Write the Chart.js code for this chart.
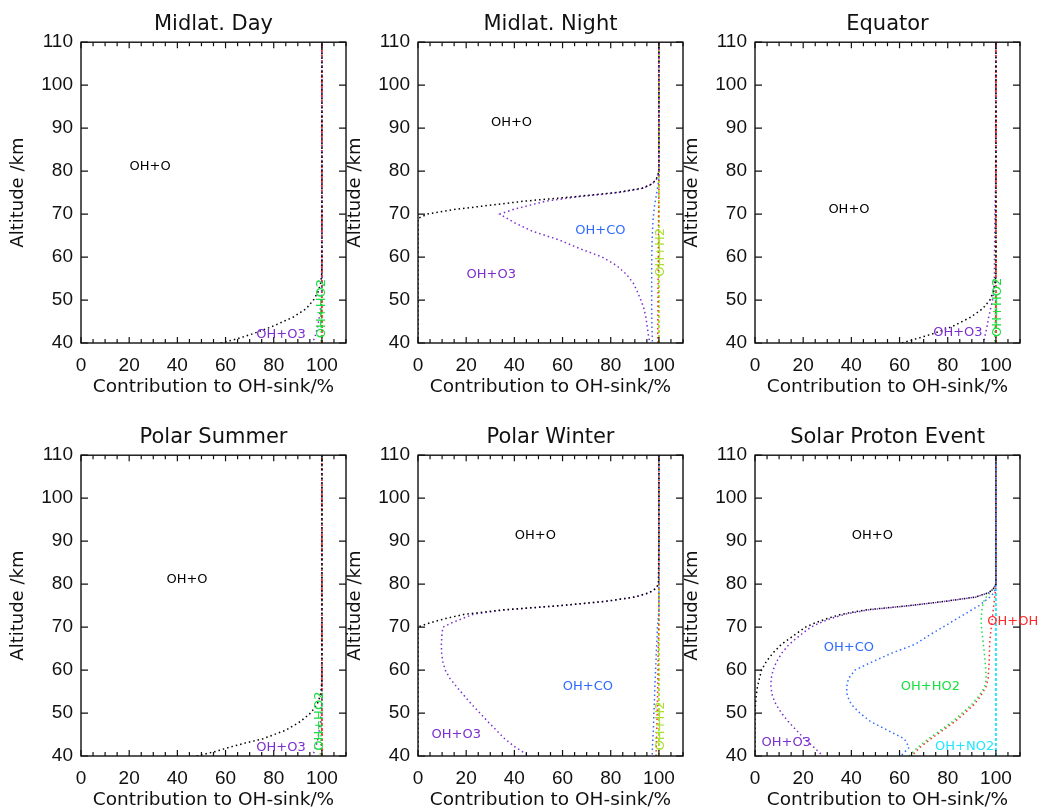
<!DOCTYPE html>
<html>
<head>
<meta charset="utf-8">
<script src="https://cdn.jsdelivr.net/npm/chart.js@4.4.0/dist/chart.umd.min.js"></script>
<style>
  html, body { margin: 0; padding: 0; background: #fff; overflow: hidden; }
  #wrap { position: relative; width: 1040px; height: 808px; }
  #wrap canvas { position: absolute; }
</style>
</head>
<body>
<div id="wrap"></div>
<script>
// altitude grids (km)
const ALT_A = [40, 41, 42, 43, 44, 46, 48, 50, 52, 54, 56, 58, 60, 70, 80, 90, 100, 110];
const ALT_B = [40, 42, 44, 46, 48, 50, 52, 54, 56, 58, 60, 62, 64, 66, 68,
               69, 70, 71, 72, 73, 74, 75, 76, 77, 78, 79, 80, 90, 100, 110];
const ALT_END = [40, 110];
const FULL = [100, 100];

// cumulative contribution (%) - Midlat. Day
const dayO   = [58, 65, 70.5, 75.5, 80, 88, 93.5, 96.5, 98.5, 99.5, 99.9, 100, 100, 100, 100, 100, 100, 100];
const dayO3  = [96, 96.8, 97.4, 97.9, 98.3, 98.9, 99.4, 99.7, 99.9, 100, 100, 100, 100, 100, 100, 100, 100, 100];
const dayHO2 = [99.6, 99.65, 99.7, 99.75, 99.8, 99.85, 99.9, 99.95, 100, 100, 100, 100, 100, 100, 100, 100, 100, 100];

// Midlat. Night
const nightO  = [0, 0, 0, 0, 0, 0, 0, 0, 0, 0, 0, 0, 0, 0, 0,
                 0, 4, 14, 29, 44, 64, 82, 93, 97, 98.8, 99.5, 100, 100, 100, 100];
const nightO3 = [96.2, 95.6, 95.1, 94.6, 93.8, 92.5, 91, 89.3, 86.5, 82.5, 76.5, 67, 58.5, 47.5, 40,
                 37, 34, 39, 46, 53, 66, 83, 93.3, 97.2, 98.9, 99.6, 100, 100, 100, 100];
const nightCO = [97.3, 97.2, 97.1, 97.05, 97, 97, 97, 97, 97, 97, 97.05, 97.1, 97.2, 97.35, 97.5,
                 97.6, 97.8, 98, 98.2, 98.5, 98.8, 99.1, 99.4, 99.7, 99.9, 100, 100, 100, 100, 100];
const nightOH = [99.5, 99.5, 99.55, 99.55, 99.6, 99.6, 99.65, 99.65, 99.7, 99.7, 99.75, 99.75, 99.8, 99.8, 99.85,
                 99.85, 99.9, 99.9, 99.9, 99.95, 99.95, 100, 100, 100, 100, 100, 100, 100, 100, 100];

// Equator
const eqO   = [61, 67, 73, 78, 82.5, 89.5, 94.5, 97.5, 99, 99.7, 100, 100, 100, 100, 100, 100, 100, 100];
const eqO3  = [94.7, 95.2, 95.6, 96, 96.4, 97, 97.8, 98.6, 99.1, 99.3, 99.4, 99.4, 99.4, 99.6, 100, 100, 100, 100];
const eqHO2 = [99.5, 99.55, 99.6, 99.65, 99.7, 99.75, 99.8, 99.85, 99.9, 99.95, 100, 100, 100, 100, 100, 100, 100, 100];

// Polar Summer
const psO   = [48, 55.5, 61.5, 68, 75.5, 85, 91, 95.3, 98, 99.3, 99.8, 100, 100, 100, 100, 100, 100, 100];
const psO3  = [96, 96.8, 97.4, 97.9, 98.3, 98.9, 99.4, 99.7, 99.9, 100, 100, 100, 100, 100, 100, 100, 100, 100];
const psHO2 = [99.3, 99.4, 99.5, 99.55, 99.6, 99.7, 99.8, 99.9, 99.95, 100, 100, 100, 100, 100, 100, 100, 100, 100];

// Polar Winter
const pwO  = [0, 0, 0, 0, 0, 0, 0, 0, 0, 0, 0, 0, 0, 0, 0,
              0, 0, 5, 11.5, 19.5, 35, 59, 78, 90, 96, 98.7, 99.8, 100, 100, 100];
const pwO3 = [46.3, 40.5, 36, 32.5, 29, 25.7, 22.3, 19.2, 16.2, 13.3, 11.3, 10.3, 9.8, 9.7, 9.9,
              10.1, 10.4, 14, 18.5, 23, 36, 59.5, 78.2, 90.2, 96.1, 98.8, 99.9, 100, 100, 100];
const pwCO = [97.2, 97.3, 97.5, 97.7, 97.8, 97.9, 98.1, 98.2, 98.3, 98.5, 98.6, 98.8, 98.9, 99.1, 99.3,
              99.3, 99.4, 99.6, 99.7, 99.9, 100, 100, 100, 100, 100, 100, 100, 100, 100, 100];
const pwOH = [98.8, 98.9, 99, 99.1, 99.2, 99.3, 99.4, 99.45, 99.5, 99.55, 99.6, 99.65, 99.7, 99.75, 99.8,
              99.85, 99.9, 99.95, 100, 100, 100, 100, 100, 100, 100, 100, 100, 100, 100, 100];

// Solar Proton Event
const speO   = [0, 0, 0, 0, 0, 0, 0.2, 0.5, 1, 1.8, 2.7, 4.7, 7.5, 11, 16,
                18.5, 21, 25, 30, 36, 46, 64, 79, 91.5, 97, 99, 100, 100, 100, 100];
const speO3  = [28.2, 24.5, 20.5, 17.2, 13.8, 11, 8.7, 7.2, 6.6, 6.7, 7.5, 9, 11.2, 14.2, 18.5,
                20.8, 23.2, 27, 31.5, 37.5, 47, 64.5, 79.2, 91.7, 97.1, 99.1, 100, 100, 100, 100];
const speCO  = [60.5, 64, 62, 55, 48, 43.5, 40, 38.3, 38, 38.8, 41.5, 49, 57, 66.5, 72,
                75, 78, 81, 84, 87, 90, 93, 95.3, 97.5, 99.2, 99.8, 100, 100, 100, 100];
const speHO2 = [64, 67.5, 72, 77, 82, 86, 90, 93, 95.3, 96, 95.8, 95.5, 95.2, 94.8, 94.4,
                94.2, 94, 93.9, 93.9, 94, 94.2, 94.5, 95, 96, 97.5, 99, 100, 100, 100, 100];
const speOH  = [65, 68.5, 73, 78, 83, 87, 91, 93.7, 95.8, 96.8, 97, 97.2, 97.3, 97.4, 97.7,
                97.9, 98.1, 98.3, 98.5, 98.7, 98.9, 99.1, 99.3, 99.5, 99.7, 99.9, 100, 100, 100, 100];

const X_TITLE = 'Contribution to OH-sink/%';
const Y_TITLE = 'Altitude /km';

const COLORS = {
  O: '#000000', O3: '#7b2fd0', CO: '#2f6bff', H2: '#a8e030',
  HO2: '#18e040', OH: '#ff2a2a', NO2: '#20e6ff'
};

const FONT = "'DejaVu Sans', sans-serif";
const TICK_FONT = "'Liberation Sans', Arial, sans-serif";

// [reaction, altitudes, values]; labels: [text, colour, x, alt, rotated]
const panels = [
  { title: 'Midlat. Day', col: 0, row: 0,
    curves: [['O', ALT_A, dayO], ['O3', ALT_A, dayO3], ['HO2', ALT_A, dayHO2], ['OH', ALT_END, FULL]],
    labels: [['OH+O', 'O', 28.7, 81, false], ['OH+O3', 'O3', 83, 41.9, false], ['OH+HO2', 'HO2', 100, 48, true]] },
  { title: 'Midlat. Night', col: 1, row: 0,
    curves: [['O', ALT_B, nightO], ['O3', ALT_B, nightO3], ['CO', ALT_B, nightCO], ['OH', ALT_B, nightOH], ['H2', ALT_END, FULL]],
    labels: [['OH+O', 'O', 38.8, 91.2, false], ['OH+CO', 'CO', 75.7, 66.1, false],
             ['OH+O3', 'O3', 30.4, 56, false], ['OH+H2', 'H2', 100.7, 61.1, true]] },
  { title: 'Equator', col: 2, row: 0,
    curves: [['O', ALT_A, eqO], ['O3', ALT_A, eqO3], ['HO2', ALT_A, eqHO2], ['OH', ALT_END, FULL]],
    labels: [['OH+O', 'O', 39, 71, false], ['OH+O3', 'O3', 84.2, 42.3, false], ['OH+HO2', 'HO2', 100.6, 48.3, true]] },
  { title: 'Polar Summer', col: 0, row: 1,
    curves: [['O', ALT_A, psO], ['O3', ALT_A, psO3], ['HO2', ALT_A, psHO2], ['OH', ALT_END, FULL]],
    labels: [['OH+O', 'O', 44, 81.1, false], ['OH+O3', 'O3', 83, 42, false], ['OH+HO2', 'HO2', 99.2, 48.1, true]] },
  { title: 'Polar Winter', col: 1, row: 1,
    curves: [['O', ALT_B, pwO], ['O3', ALT_B, pwO3], ['CO', ALT_B, pwCO], ['OH', ALT_B, pwOH], ['H2', ALT_END, FULL]],
    labels: [['OH+O', 'O', 48.7, 91.3, false], ['OH+CO', 'CO', 70.5, 56.1, false],
             ['OH+O3', 'O3', 15.9, 45, false], ['OH+H2', 'H2', 100.7, 47, true]] },
  { title: 'Solar Proton Event', col: 2, row: 1,
    curves: [['O', ALT_B, speO], ['O3', ALT_B, speO3], ['CO', ALT_B, speCO], ['HO2', ALT_B, speHO2],
             ['OH', ALT_B, speOH], ['NO2', ALT_END, FULL]],
    labels: [['OH+O', 'O', 48.7, 91.3, false], ['OH+CO', 'CO', 39, 65.2, false],
             ['OH+HO2', 'HO2', 72.8, 56.1, false], ['OH+OH', 'OH', 107, 71.3, false],
             ['OH+O3', 'O3', 13, 43.1, false], ['OH+NO2', 'NO2', 87, 42.2, false]] }
];

const CANVAS_W = 370, CANVAS_H = 404;
const COL_LEFT = [0, 337, 674];
const ROW_TOP = [0, 413];

// IDL-like frame with inward ticks on all four sides
const frameTicks = {
  id: 'frameTicks',
  afterDatasetsDraw(chart) {
    const { ctx, chartArea: a, scales: { x, y } } = chart;
    ctx.save();
    ctx.strokeStyle = '#111';
    ctx.lineWidth = 1.4;
    ctx.strokeRect(a.left, a.top, a.right - a.left, a.bottom - a.top);
    ctx.lineWidth = 1.2;
    ctx.beginPath();
    for (let v = 0; v <= 110; v += 5) {
      const px = x.getPixelForValue(v);
      const len = v % 20 === 0 ? 6 : 4;
      ctx.moveTo(px, a.bottom); ctx.lineTo(px, a.bottom - len);
      ctx.moveTo(px, a.top); ctx.lineTo(px, a.top + len);
    }
    for (let v = 40; v <= 110; v += 10) {
      const py = y.getPixelForValue(v);
      ctx.moveTo(a.left, py); ctx.lineTo(a.left + 7, py);
      ctx.moveTo(a.right, py); ctx.lineTo(a.right - 7, py);
    }
    ctx.stroke();
    ctx.restore();
  }
};

function labelPlugin(items) {
  return {
    id: 'reactionLabels',
    afterDraw(chart) {
      const { ctx, scales: { x, y } } = chart;
      ctx.save();
      ctx.font = '13px ' + FONT;
      ctx.textAlign = 'center';
      ctx.textBaseline = 'middle';
      items.forEach(([text, key, vx, vy, rot]) => {
        ctx.fillStyle = COLORS[key];
        const px = x.getPixelForValue(vx), py = y.getPixelForValue(vy);
        if (rot) {
          ctx.save();
          ctx.translate(px, py);
          ctx.rotate(-Math.PI / 2);
          ctx.fillText(text, 0, 0);
          ctx.restore();
        } else {
          ctx.fillText(text, px, py);
        }
      });
      ctx.restore();
    }
  };
}

const wrap = document.getElementById('wrap');

panels.forEach(p => {
  const canvas = document.createElement('canvas');
  canvas.width = CANVAS_W;
  canvas.height = CANVAS_H;
  canvas.style.left = COL_LEFT[p.col] + 'px';
  canvas.style.top = ROW_TOP[p.row] + 'px';
  canvas.style.width = CANVAS_W + 'px';
  canvas.style.height = CANVAS_H + 'px';
  wrap.appendChild(canvas);

  const last = p.curves.length - 1;
  const datasets = p.curves.map(([key, alts, vals], i) => ({
    data: alts.map((a, j) => ({ x: vals[j], y: a })),
    borderColor: COLORS[key],
    // the closing 100 % line is drawn a bit denser so it shows on top
    borderWidth: i === last ? 1.9 : 1.5,
    borderDash: i === last ? [3, 2] : [1.5, 3],
    borderDashOffset: i === last ? 0 : i * 1.5,
    pointRadius: 0,
    tension: 0,
    fill: false
  }));

  new Chart(canvas, {
    type: 'line',
    data: { datasets },
    options: {
      responsive: false,
      animation: false,
      devicePixelRatio: 1,
      layout: { padding: { left: 0, top: 0, right: 24, bottom: 0 } },
      plugins: {
        legend: { display: false },
        tooltip: { enabled: false },
        title: {
          display: true,
          text: p.title,
          fullSize: false,
          color: '#111',
          font: { family: FONT, size: 21, weight: 'normal', lineHeight: 1.2 },
          padding: { top: 12, bottom: 5 }
        }
      },
      scales: {
        x: {
          type: 'linear',
          min: 0,
          max: 110,
          grid: { display: false, drawTicks: false },
          border: { display: false },
          ticks: {
            stepSize: 20,
            includeBounds: false,
            padding: 11,
            color: '#111',
            font: { family: TICK_FONT, size: 19 }
          },
          title: {
            display: true,
            text: X_TITLE,
            color: '#111',
            font: { family: FONT, size: 18.5, lineHeight: 1.2 },
            padding: { top: 0, bottom: 6 }
          },
          afterFit: s => { s.height = 61; }
        },
        y: {
          type: 'linear',
          min: 40,
          max: 110,
          grid: { display: false, drawTicks: false },
          border: { display: false },
          ticks: {
            stepSize: 10,
            padding: 8,
            color: '#111',
            font: { family: TICK_FONT, size: 19 }
          },
          title: {
            display: true,
            text: Y_TITLE,
            color: '#111',
            font: { family: FONT, size: 18, lineHeight: 1.2 },
            padding: { top: 8, bottom: 0 }
          },
          afterFit: s => { s.width = 81; }
        }
      }
    },
    plugins: [frameTicks, labelPlugin(p.labels)]
  });
});
</script>
</body>
</html>
